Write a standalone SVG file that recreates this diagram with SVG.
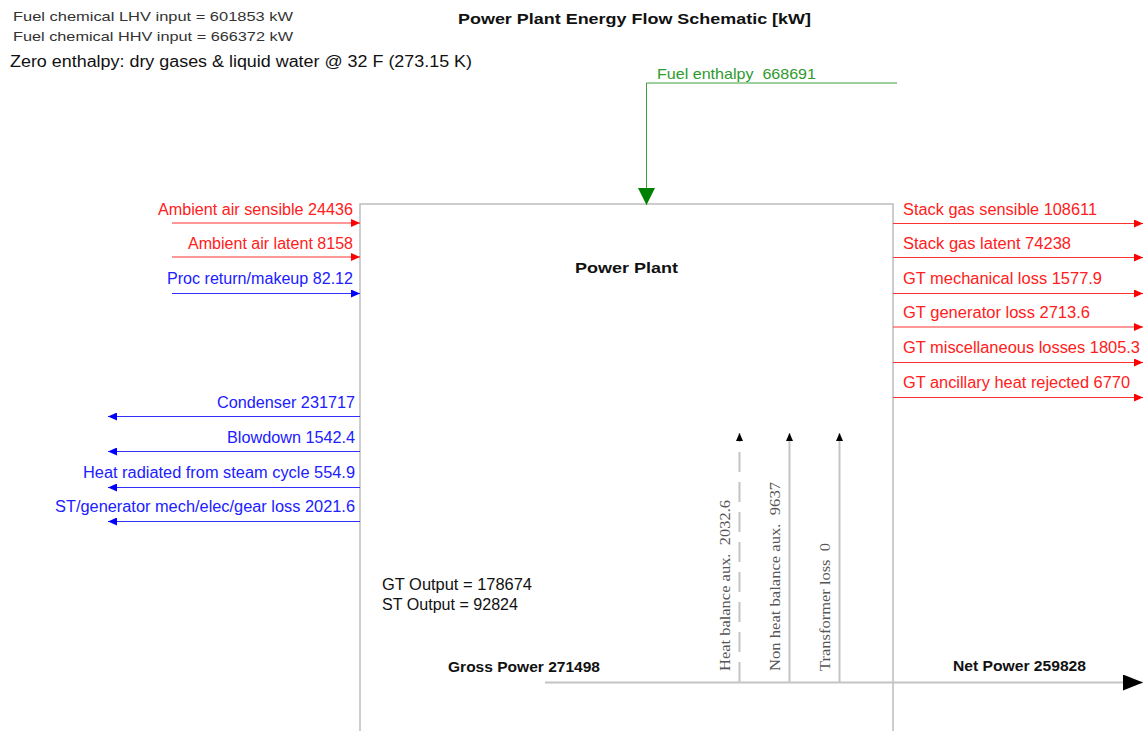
<svg xmlns="http://www.w3.org/2000/svg" width="1143" height="731" viewBox="0 0 1143 731">
  <style>
    text { font-family: "Liberation Sans", Arial, sans-serif; white-space: pre; }
    .info { font-size: 13px; fill: #333; }
    .zero { font-size: 16px; fill: #111; }
    .title { font-size: 15px; font-weight: bold; fill: #111; }
    .lbl { font-size: 16px; }
    .red { fill: #ff2020; }
    .blue { fill: #2020ff; }
    .green { fill: #2e9a2e; font-size: 15px; }
    .out { font-size: 16px; fill: #111; }
    .bold { font-size: 15px; font-weight: bold; fill: #111; }
    .vert { font-family: "Liberation Serif", "Times New Roman", serif; font-size: 15px; fill: #555; }
    .lr { stroke: #ff3030; stroke-width: 1; fill: none; }
    .lb { stroke: #3030ff; stroke-width: 1; fill: none; }
    .lg { stroke: #3aa03a; stroke-width: 1; fill: none; }
    .lk { stroke: #c4c4c4; stroke-width: 2; fill: none; }
  </style>
  <defs>
    <marker id="arR" markerUnits="userSpaceOnUse" markerWidth="9" markerHeight="8" refX="9" refY="4" orient="auto">
      <path d="M0,0 L9,4 L0,8 z" fill="#ff0000"/>
    </marker>
    <marker id="arB" markerUnits="userSpaceOnUse" markerWidth="9" markerHeight="8" refX="9" refY="4" orient="auto">
      <path d="M0,0 L9,4 L0,8 z" fill="#0000ff"/>
    </marker>
    <marker id="arG" markerUnits="userSpaceOnUse" markerWidth="17" markerHeight="17" refX="17" refY="8.5" orient="auto">
      <path d="M0,0 L17,8.5 L0,17 z" fill="#008000"/>
    </marker>
    <marker id="arK" markerUnits="userSpaceOnUse" markerWidth="8" markerHeight="7" refX="8" refY="3.5" orient="auto">
      <path d="M0,0 L8,3.5 L0,7 z" fill="#000"/>
    </marker>
    <marker id="arKL" markerUnits="userSpaceOnUse" markerWidth="20" markerHeight="16" refX="20" refY="8" orient="auto">
      <path d="M0,0 L20,8 L0,16 z" fill="#000"/>
    </marker>
  </defs>

  <rect width="1143" height="731" fill="#ffffff"/>

  <g id="header">
    <text class="info" x="13" y="21" textLength="280" lengthAdjust="spacingAndGlyphs">Fuel chemical LHV input = 601853 kW</text>
    <text class="info" x="13" y="41" textLength="280" lengthAdjust="spacingAndGlyphs">Fuel chemical HHV input = 666372 kW</text>
    <text class="zero" x="10" y="67" textLength="462" lengthAdjust="spacingAndGlyphs">Zero enthalpy: dry gases &amp; liquid water @ 32 F (273.15 K)</text>
    <text class="title" x="458" y="24" textLength="353" lengthAdjust="spacingAndGlyphs">Power Plant Energy Flow Schematic [kW]</text>
  </g>

  <g id="power-plant">
    <rect x="360" y="204" width="533" height="540" fill="none" stroke="#bdbdbd" stroke-width="1.5"/>
    <text class="bold" x="575" y="273" font-size="16" textLength="103" lengthAdjust="spacingAndGlyphs">Power Plant</text>
    <text class="out" x="382" y="590" textLength="150" lengthAdjust="spacingAndGlyphs">GT Output = 178674</text>
    <text class="out" x="382" y="610" textLength="136" lengthAdjust="spacingAndGlyphs">ST Output = 92824</text>
  </g>

  <g id="connectors">
    <!-- fuel -->
    <path class="lg" d="M897,83 H646.5 V205" marker-end="url(#arG)"/>
    <!-- left inputs -->
    <line class="lr" x1="172" y1="223" x2="360" y2="223" marker-end="url(#arR)"/>
    <line class="lr" x1="172" y1="257" x2="360" y2="257" marker-end="url(#arR)"/>
    <line class="lb" x1="172" y1="293.5" x2="360" y2="293.5" marker-end="url(#arB)"/>
    <!-- right outputs -->
    <line class="lr" x1="893" y1="223.5" x2="1143" y2="223.5" marker-end="url(#arR)"/>
    <line class="lr" x1="893" y1="257.5" x2="1143" y2="257.5" marker-end="url(#arR)"/>
    <line class="lr" x1="893" y1="293.5" x2="1143" y2="293.5" marker-end="url(#arR)"/>
    <line class="lr" x1="893" y1="327" x2="1143" y2="327" marker-end="url(#arR)"/>
    <line class="lr" x1="893" y1="362.5" x2="1143" y2="362.5" marker-end="url(#arR)"/>
    <line class="lr" x1="893" y1="397.5" x2="1143" y2="397.5" marker-end="url(#arR)"/>
    <!-- left outputs -->
    <line class="lb" x1="360" y1="416.5" x2="108" y2="416.5" marker-end="url(#arB)"/>
    <line class="lb" x1="360" y1="451.5" x2="108" y2="451.5" marker-end="url(#arB)"/>
    <line class="lb" x1="360" y1="487.5" x2="108" y2="487.5" marker-end="url(#arB)"/>
    <line class="lb" x1="360" y1="521.5" x2="108" y2="521.5" marker-end="url(#arB)"/>
    <!-- aux verticals -->
    <line class="lk" x1="739.5" y1="682" x2="739.5" y2="433" stroke-dasharray="20,10" marker-end="url(#arK)"/>
    <line class="lk" x1="789.5" y1="682" x2="789.5" y2="433" marker-end="url(#arK)"/>
    <line class="lk" x1="839.5" y1="682" x2="839.5" y2="433" marker-end="url(#arK)"/>
    <!-- gross / net -->
    <line class="lk" x1="545" y1="682.5" x2="1143" y2="682.5" stroke-width="1.5" marker-end="url(#arKL)"/>
  </g>

  <g id="labels">
    <text class="lbl red" x="158" y="215" textLength="195" lengthAdjust="spacingAndGlyphs">Ambient air sensible 24436</text>
    <text class="lbl red" x="188" y="249" textLength="165" lengthAdjust="spacingAndGlyphs">Ambient air latent 8158</text>
    <text class="lbl blue" x="167" y="284" textLength="186" lengthAdjust="spacingAndGlyphs">Proc return/makeup 82.12</text>

    <text class="lbl red" x="903" y="215" textLength="194" lengthAdjust="spacingAndGlyphs">Stack gas sensible 108611</text>
    <text class="lbl red" x="903" y="249" textLength="168" lengthAdjust="spacingAndGlyphs">Stack gas latent 74238</text>
    <text class="lbl red" x="903" y="284" textLength="199" lengthAdjust="spacingAndGlyphs">GT mechanical loss 1577.9</text>
    <text class="lbl red" x="903" y="318" textLength="187" lengthAdjust="spacingAndGlyphs">GT generator loss 2713.6</text>
    <text class="lbl red" x="903" y="353" textLength="237" lengthAdjust="spacingAndGlyphs">GT miscellaneous losses 1805.3</text>
    <text class="lbl red" x="903" y="388" textLength="227" lengthAdjust="spacingAndGlyphs">GT ancillary heat rejected 6770</text>

    <text class="lbl blue" x="217" y="408" textLength="138" lengthAdjust="spacingAndGlyphs">Condenser 231717</text>
    <text class="lbl blue" x="227" y="443" textLength="128" lengthAdjust="spacingAndGlyphs">Blowdown 1542.4</text>
    <text class="lbl blue" x="83" y="478" textLength="272" lengthAdjust="spacingAndGlyphs">Heat radiated from steam cycle 554.9</text>
    <text class="lbl blue" x="55" y="512" textLength="300" lengthAdjust="spacingAndGlyphs">ST/generator mech/elec/gear loss 2021.6</text>

    <text class="green" x="657" y="79" textLength="159" lengthAdjust="spacingAndGlyphs">Fuel enthalpy  668691</text>

    <text class="vert" transform="translate(730,671) rotate(-90)" textLength="171" lengthAdjust="spacingAndGlyphs">Heat balance aux.  2032.6</text>
    <text class="vert" transform="translate(780,671) rotate(-90)" textLength="189" lengthAdjust="spacingAndGlyphs">Non heat balance aux.  9637</text>
    <text class="vert" transform="translate(830,671) rotate(-90)" textLength="128" lengthAdjust="spacingAndGlyphs">Transformer loss  0</text>

    <text class="bold" x="448" y="672" textLength="152" lengthAdjust="spacingAndGlyphs">Gross Power 271498</text>
    <text class="bold" x="953" y="671" textLength="133" lengthAdjust="spacingAndGlyphs">Net Power 259828</text>
  </g>
</svg>
